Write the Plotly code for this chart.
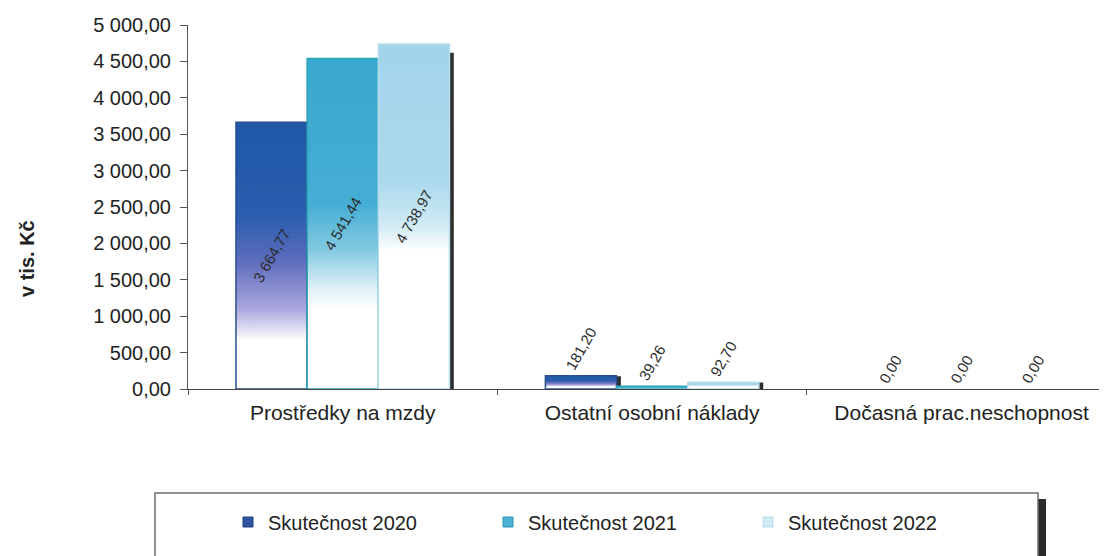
import plotly.graph_objects as go

# ---------------- data ----------------
categories = ["Prostředky na mzdy", "Ostatní osobní náklady", "Dočasná prac.neschopnost"]
series_names = ["Skutečnost 2020", "Skutečnost 2021", "Skutečnost 2022"]
values_2020 = [3664.77, 181.20, 0.00]
values_2021 = [4541.44, 39.26, 0.00]
values_2022 = [4738.97, 92.70, 0.00]
y_ticks = [0, 500, 1000, 1500, 2000, 2500, 3000, 3500, 4000, 4500, 5000]
y_title = "v tis. Kč"

series_values = [values_2020, values_2021, values_2022]

# ---------------- styles ----------------
gradients = [
    [[0, "#ffffff"], [0.18, "#ffffff"], [0.30, "#aaa7dd"], [0.48, "#5d6cbd"], [0.65, "#2a5dad"], [1, "#1f58a7"]],
    [[0, "#ffffff"], [0.24, "#ffffff"], [0.30, "#e3f2f8"], [0.42, "#83c9e1"], [0.56, "#45aed4"], [1, "#39a7cf"]],
    [[0, "#ffffff"], [0.40, "#ffffff"], [0.47, "#d2ebf5"], [0.60, "#abd9ec"], [1, "#a2d4ea"]],
]
outline_colors = ["#2b4f8f", "#2aa3b5", "#b8deee"]
legend_colors = ["#2f55a0", "#4fb0d6", "#d3eaf4"]
legend_line = ["#1f3f7a", "#2d93b8", "#b9dbe9"]

FONT = "Liberation Sans, Arial, sans-serif"
BARGAP = 0.31
n_series = len(series_values)
bw = (1 - BARGAP) / n_series
X_RANGE = [-0.5, 2.47]

# screen geometry of the plot area (page has an 8px body margin)
PX_L, PX_R, PX_T, PX_B = 188, 1107, 25, 389


def px_x(px):
    return (px - PX_L) / (PX_R - PX_L)


def px_y(py):
    return (PX_B - py) / (PX_B - PX_T)


fig = go.Figure()


def bar_edges(c, s):
    xc = c + (s - (n_series - 1) / 2) * bw
    return xc - bw / 2, xc + bw / 2


# drop shadows (behind everything)
dx = 0.014
for s, vals in enumerate(series_values):
    for c, v in enumerate(vals):
        if v <= 0:
            continue
        x0, x1 = bar_edges(c, s)
        top = v * 0.975
        fig.add_trace(go.Scatter(
            x=[x0 + dx, x1 + dx, x1 + dx, x0 + dx, x0 + dx],
            y=[0, 0, top, top, 0],
            mode="lines", fill="toself", fillcolor="#2e2e2e",
            line=dict(width=0, color="#2e2e2e"),
            showlegend=False, hoverinfo="skip",
        ))

# gradient-filled bar bodies
for s, vals in enumerate(series_values):
    for c, v in enumerate(vals):
        if v <= 0:
            continue
        x0, x1 = bar_edges(c, s)
        fig.add_trace(go.Scatter(
            x=[x0, x1, x1, x0, x0],
            y=[0, 0, v, v, 0],
            mode="lines", fill="toself",
            fillgradient=dict(type="vertical", colorscale=gradients[s]),
            line=dict(width=1.5, color=outline_colors[s]),
            showlegend=False, hoverinfo="skip",
        ))

# legend entries
for s, name in enumerate(series_names):
    fig.add_trace(go.Scatter(
        x=[None], y=[None], mode="markers", name=name,
        marker=dict(symbol="square", size=10, color=legend_colors[s],
                    line=dict(width=1, color=legend_line[s])),
    ))

# real bars (transparent) carrying the value labels, on top layer
for s, vals in enumerate(series_values):
    fig.add_trace(go.Bar(
        x=categories, y=vals, name=series_names[s], offsetgroup=str(s),
        xaxis="x2", yaxis="y2",
        marker=dict(color="rgba(0,0,0,0)", line=dict(width=0)),
        texttemplate="%{y:,.2f}",
        textposition=["inside" if v > 1000 else "outside" for v in vals],
        insidetextanchor="middle",
        textangle=-60,
        textfont=dict(family=FONT, size=15, color="#2a2a2a"),
        constraintext="none",
        cliponaxis=False,
        showlegend=False, hoverinfo="skip",
    ))

# legend frame
fig.add_shape(type="rect", xref="paper", yref="paper",
              x0=px_x(1038), x1=px_x(1046), y0=px_y(580), y1=px_y(499),
              line=dict(width=0), fillcolor="#2b2b2b", layer="below")
fig.add_shape(type="rect", xref="paper", yref="paper",
              x0=px_x(155), x1=px_x(1038), y0=px_y(580), y1=px_y(493),
              line=dict(width=1.5, color="#6e6e6e"), fillcolor="white", layer="below")

# y-axis title
fig.add_annotation(text=y_title, xref="paper", yref="paper",
                   x=px_x(27), y=px_y(259), xanchor="center", yanchor="middle",
                   textangle=-90, showarrow=False,
                   font=dict(family=FONT, size=20, color="#222222", weight="bold"))

fig.update_layout(
    width=1099, height=548,
    margin=dict(l=180, r=0, t=17, b=167),
    paper_bgcolor="white", plot_bgcolor="white",
    separators=", ",
    font=dict(family=FONT, size=15, color="#222222"),
    barmode="group", bargap=BARGAP, bargroupgap=0,
    showlegend=True,
    legend=dict(orientation="h", x=px_x(228), xanchor="left",
                y=px_y(522), yanchor="middle",
                entrywidth=215, entrywidthmode="pixels",
                font=dict(family=FONT, size=20, color="#222222"),
                bgcolor="rgba(0,0,0,0)", traceorder="normal"),
    xaxis=dict(range=X_RANGE, visible=False, fixedrange=True),
    yaxis=dict(range=[0, 5000], tickvals=y_ticks, tickformat=",.2f",
               ticks="outside", ticklen=7, tickcolor="#555555",
               showline=True, linecolor="#555555", linewidth=1,
               showgrid=False, zeroline=False, ticklabelstandoff=5,
               tickfont=dict(family=FONT, size=20, color="#222222")),
    xaxis2=dict(overlaying="x", anchor="y2", type="category", range=X_RANGE,
                showline=True, linecolor="#444444", linewidth=1,
                ticks="outside", tickson="boundaries", ticklen=5, tickcolor="#555555",
                showgrid=False,
                tickfont=dict(family=FONT, size=21, color="#222222"),
                ticklabelstandoff=5),
    yaxis2=dict(overlaying="y", anchor="x2", range=[0, 5000], visible=False),
)

fig.write_html("out.html")
